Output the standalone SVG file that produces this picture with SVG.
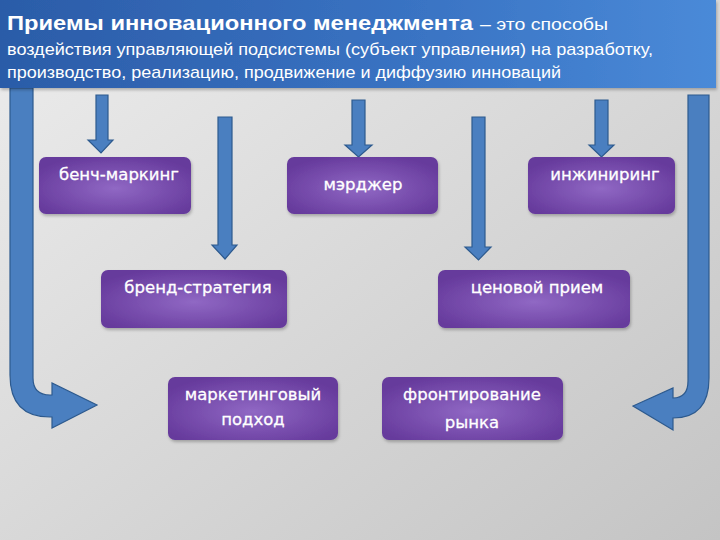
<svg xmlns="http://www.w3.org/2000/svg" width="720" height="540" viewBox="0 0 720 540">
<defs>
<linearGradient id="bg" x1="0" y1="0" x2="1" y2="1">
<stop offset="0" stop-color="#ededed"/><stop offset="1" stop-color="#c4c4c4"/>
</linearGradient>
<linearGradient id="hdr" x1="0" y1="0" x2="1" y2="0">
<stop offset="0" stop-color="#2b5ca8"/><stop offset="0.6" stop-color="#3a74c4"/><stop offset="1" stop-color="#4a8ad8"/>
</linearGradient>
<radialGradient id="box" cx="0.5" cy="0.55" r="0.6">
<stop offset="0" stop-color="#9068c4"/><stop offset="1" stop-color="#663a9c"/>
</radialGradient>
<filter id="sh" x="-10%" y="-10%" width="130%" height="130%">
<feDropShadow dx="1" dy="2" stdDeviation="1.5" flood-color="#000" flood-opacity="0.25"/>
</filter>
</defs>
<style>
.arr{fill:#4a7fc0;stroke:#2d5a8e;stroke-width:1.2;stroke-linejoin:miter}
.bx{fill:url(#box);filter:url(#sh)}
.lb{font-family:"DejaVu Sans",sans-serif;font-size:16.5px;fill:#fff;text-anchor:middle;stroke:#fff;stroke-width:0.3}
.h{font-family:"Liberation Sans",Arial,sans-serif;fill:#fff}
</style>
<rect width="720" height="540" fill="url(#bg)"/>
<g id="connectors">
<path class="arr" d="M10,88 V375 Q10,417 50,417 H52 V428 L97,405 L52,383 V395 H50 Q33,395 33,378 V88 Z"/>
<path class="arr" d="M688,95 H709 V378 Q709,418 673,418 V430 L633,406 L673,388 V398 Q688,398 688,381 Z"/>
<path class="arr" d="M96,95 H108 V140 H113 L101,153 L88,140 H96 Z"/>
<path class="arr" d="M218,117 H232 V245 H237 L225,259 L212,245 H218 Z"/>
<path class="arr" d="M352,100 H365 V145 H372 L358.5,157 L345,145 H352 Z"/>
<path class="arr" d="M472,117 H485 V247 H491 L478.5,260 L465,247 H472 Z"/>
<path class="arr" d="M595,100 H608 V145 H614 L601.5,157 L589,145 H595 Z"/>
</g>
<g id="header">
<rect x="0" y="0" width="716" height="88" fill="url(#hdr)" filter="url(#sh)"/>
<text class="h" x="7" y="30" font-size="20" font-weight="bold" textLength="466" lengthAdjust="spacingAndGlyphs">Приемы инновационного менеджмента</text>
<text class="h" x="480" y="30" font-size="16" textLength="128" lengthAdjust="spacingAndGlyphs">– это  способы</text>
<text class="h" x="7" y="55" font-size="17" textLength="646" lengthAdjust="spacingAndGlyphs">воздействия управляющей подсистемы (субъект управления) на разработку,</text>
<text class="h" x="7" y="78" font-size="17" textLength="554" lengthAdjust="spacingAndGlyphs">производство, реализацию, продвижение и диффузию инноваций</text>
</g>
<g id="n-bench"><rect class="bx" x="39" y="157" width="152" height="57" rx="7"/><text class="lb" x="119" y="180">бенч-маркинг</text></g>
<g id="n-merger"><rect class="bx" x="287" y="157" width="151" height="57" rx="7"/><text class="lb" x="363" y="190">мэрджер</text></g>
<g id="n-engineering"><rect class="bx" x="528" y="157" width="147" height="57" rx="7"/><text class="lb" x="605" y="180">инжиниринг</text></g>
<g id="n-brand"><rect class="bx" x="101" y="270" width="186" height="58" rx="7"/><text class="lb" x="198" y="293">бренд-стратегия</text></g>
<g id="n-price"><rect class="bx" x="438" y="270" width="192" height="58" rx="7"/><text class="lb" x="537" y="293">ценовой прием</text></g>
<g id="n-marketing"><rect class="bx" x="168" y="377" width="170" height="63" rx="7"/><text class="lb" x="253" y="400">маркетинговый</text><text class="lb" x="253" y="425">подход</text></g>
<g id="n-front"><rect class="bx" x="382" y="377" width="181" height="63" rx="7"/><text class="lb" x="472" y="400">фронтирование</text><text class="lb" x="472" y="428">рынка</text></g>
</svg>
